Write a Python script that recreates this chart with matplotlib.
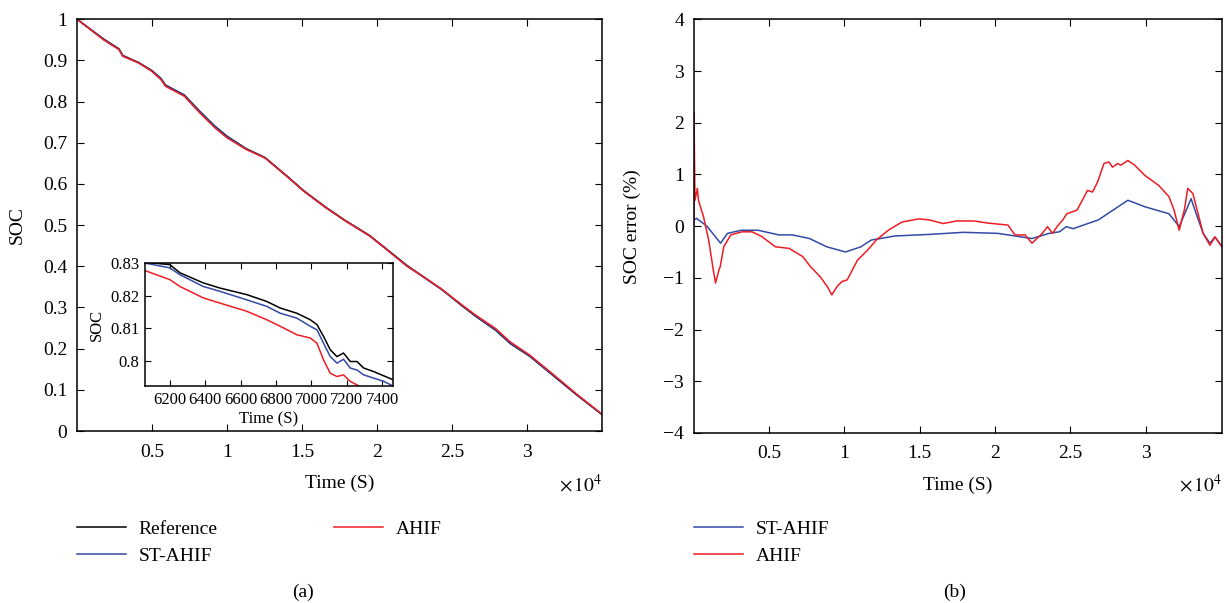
import matplotlib
matplotlib.use('Agg')
import matplotlib.pyplot as plt
from matplotlib.ticker import FuncFormatter, MultipleLocator

plt.rcParams['font.family'] = ['Liberation Serif', 'DejaVu Serif']
plt.rcParams['mathtext.fontset'] = 'stix'

# (a) SOC vs time, seconds
t_soc = [0, 1770, 2800, 3050, 4100, 5000, 5600, 5900, 7150, 8200, 9200, 10000, 11260, 12540,
         14100, 15100, 16600, 17900, 19500, 20500, 22000, 23000, 24300, 25600, 26600, 27900,
         28900, 30200, 31800, 33300, 35000]
soc_ref = [1.0, 0.952, 0.928, 0.912, 0.895, 0.875, 0.856, 0.840, 0.816, 0.776, 0.740, 0.716,
           0.686, 0.664, 0.616, 0.584, 0.543, 0.511, 0.475, 0.446, 0.402, 0.377, 0.344, 0.306,
           0.278, 0.245, 0.212, 0.181, 0.133, 0.088, 0.040]
soc_st = [1.0, 0.951, 0.927, 0.911, 0.894, 0.874, 0.855, 0.839, 0.815, 0.775, 0.739, 0.715,
          0.685, 0.663, 0.615, 0.583, 0.542, 0.510, 0.474, 0.445, 0.401, 0.376, 0.344, 0.307,
          0.279, 0.246, 0.213, 0.182, 0.134, 0.089, 0.040]
soc_ahif = [1.0, 0.950, 0.926, 0.910, 0.894, 0.873, 0.853, 0.837, 0.813, 0.772, 0.736, 0.712,
            0.684, 0.663, 0.615, 0.583, 0.542, 0.510, 0.474, 0.445, 0.400, 0.377, 0.345, 0.308,
            0.281, 0.249, 0.216, 0.184, 0.136, 0.090, 0.041]

# inset zoom 6060-7460 s
t_in = [6058, 6200, 6257, 6389, 6484, 6635, 6748, 6824, 6918, 6994, 7032, 7069, 7107, 7145,
        7182, 7220, 7258, 7296, 7353, 7410, 7462]
in_ref = [0.8302, 0.8295, 0.8270, 0.8239, 0.8223, 0.8203, 0.8182, 0.8162, 0.8146, 0.8126,
          0.8111, 0.8075, 0.8034, 0.8013, 0.8024, 0.7998, 0.7998, 0.7978, 0.7967, 0.7954, 0.7942]
in_st = [0.8300, 0.8285, 0.8264, 0.8228, 0.8213, 0.8187, 0.8167, 0.8146, 0.8131, 0.8106,
         0.8095, 0.8054, 0.8013, 0.7993, 0.8005, 0.7978, 0.7972, 0.7957, 0.7947, 0.7937, 0.7923]
t_in_ahif = [6058, 6200, 6257, 6389, 6484, 6635, 6748, 6824, 6918, 6994, 7032, 7069, 7107,
             7145, 7182, 7220, 7277, 7300]
in_ahif = [0.8277, 0.8249, 0.8228, 0.8193, 0.8177, 0.8152, 0.8126, 0.8106, 0.8080, 0.8070,
           0.8054, 0.8003, 0.7962, 0.7952, 0.7957, 0.7937, 0.7921, 0.7900]

# (b) SOC error (%)
t_err_ahif = [0, 1, 70, 230, 300, 640, 980, 1320, 1440, 1660, 1750, 1980, 2450, 3180, 3860,
              4500, 5410, 6320, 7230, 7730, 8390, 8860, 9160, 9500, 9840, 10180, 10860, 11550,
              12110, 12910, 13820, 14950, 15640, 16550, 17450, 18590, 19500, 20180, 20860,
              21320, 22000, 22450, 23140, 23480, 23820, 24140, 24500, 24770, 25450, 26140,
              26480, 26820, 27230, 27570, 27800, 28140, 28360, 28820, 29270, 29950, 30860,
              31550, 31890, 32230, 32570, 32800, 33140, 33820, 34270, 34610, 35070]
err_ahif = [0.0, 2.2, 0.5, 0.73, 0.5, 0.18, -0.27, -0.91, -1.1, -0.85, -0.78, -0.4, -0.17,
            -0.11, -0.11, -0.2, -0.4, -0.43, -0.59, -0.78, -0.98, -1.17, -1.33, -1.17, -1.07,
            -1.04, -0.66, -0.46, -0.27, -0.08, 0.08, 0.14, 0.12, 0.05, 0.1, 0.1, 0.06, 0.04,
            0.02, -0.17, -0.17, -0.33, -0.14, -0.01, -0.14, 0.0, 0.12, 0.24, 0.31, 0.69, 0.66,
            0.86, 1.21, 1.24, 1.14, 1.21, 1.18, 1.27, 1.18, 0.98, 0.79, 0.57, 0.31, -0.08,
            0.31, 0.73, 0.63, -0.14, -0.37, -0.21, -0.4]
t_err_st = [0, 180, 860, 1770, 2230, 3140, 4270, 5640, 6550, 7680, 8820, 10070, 11090, 11770,
            13360, 15640, 17910, 20180, 21320, 22450, 23590, 24270, 24730, 25180, 26860,
            28820, 30000, 31550, 32230, 33020, 33360, 33820, 34270, 34610, 35070]
err_st = [0.12, 0.15, 0.0, -0.33, -0.14, -0.08, -0.08, -0.17, -0.17, -0.24, -0.4, -0.5, -0.4,
          -0.27, -0.19, -0.16, -0.12, -0.14, -0.19, -0.24, -0.14, -0.11, -0.01, -0.05, 0.12,
          0.5, 0.37, 0.24, -0.01, 0.53, 0.24, -0.14, -0.33, -0.21, -0.4]

c_ref = 'black'
c_st = '#3349a5'
c_ahif = '#ee1c24'
fs = 14
fs_in = 12

fig = plt.figure(figsize=(12.26, 6.03), dpi=100)
ax1 = fig.add_axes([0.0628, 0.2852, 0.4282, 0.683])
ax2 = fig.add_axes([0.566, 0.2820, 0.4307, 0.686])

def style(ax):
    ax.tick_params(direction='in', top=True, right=True, labelsize=fs, length=5, width=0.8)
    ax.tick_params(axis='x', pad=9)
    ax.tick_params(axis='y', pad=7)
    for s in ax.spines.values():
        s.set_linewidth(1.1)

sec_fmt = FuncFormatter(lambda v, p: '%g' % (v / 1e4))
minus_fmt = lambda v, p: ('%g' % round(v, 2)).replace('-', '\u2212')

l1, = ax1.plot(t_soc, soc_ref, color=c_ref, lw=1.1)
l2, = ax1.plot(t_soc, soc_st, color=c_st, lw=1.1)
l3, = ax1.plot(t_soc, soc_ahif, color=c_ahif, lw=1.1)
ax1.set_xlim(0, 35000)
ax1.set_ylim(0, 1)
ax1.xaxis.set_major_formatter(sec_fmt)
ax1.yaxis.set_major_locator(MultipleLocator(0.1))
ax1.yaxis.set_major_formatter(FuncFormatter(lambda v, p: '%g' % round(v, 1)))
ax1.set_xticks([5000, 10000, 15000, 20000, 25000, 30000])
ax1.set_xlabel('Time (S)', fontsize=fs, labelpad=10)
ax1.set_ylabel('SOC', fontsize=fs, labelpad=12)
style(ax1)
fig.text(0.491, 0.196, r'$\times\,10^4$', fontsize=fs, ha='right', va='center')

axi = fig.add_axes([0.1183, 0.3599, 0.2023, 0.204])
axi.plot(t_in, in_ref, color=c_ref, lw=1.1)
axi.plot(t_in, in_st, color=c_st, lw=1.1)
axi.plot(t_in_ahif, in_ahif, color=c_ahif, lw=1.1)
axi.set_xlim(6060, 7462)
axi.set_ylim(0.7923, 0.83)
axi.set_xticks([6200, 6400, 6600, 6800, 7000, 7200, 7400])
axi.set_yticks([0.8, 0.81, 0.82, 0.83])
axi.yaxis.set_major_formatter(FuncFormatter(lambda v, p: '%g' % round(v, 2)))
axi.tick_params(direction='in', top=True, right=True, labelsize=fs_in, length=4, pad=4)
axi.set_xlabel('Time (S)', fontsize=fs_in, labelpad=3)
axi.set_ylabel('SOC', fontsize=fs_in, labelpad=4)
for s in axi.spines.values():
    s.set_linewidth(1.1)

ax2.plot(t_err_st, err_st, color=c_st, lw=1.1)
ax2.plot(t_err_ahif, err_ahif, color=c_ahif, lw=1.1)
ax2.set_xlim(0, 35070)
ax2.set_ylim(-4, 4)
ax2.set_xticks([5000, 10000, 15000, 20000, 25000, 30000])
ax2.xaxis.set_major_formatter(sec_fmt)
ax2.yaxis.set_major_locator(MultipleLocator(1))
ax2.yaxis.set_major_formatter(FuncFormatter(minus_fmt))
ax2.set_xlabel('Time (S)', fontsize=fs, labelpad=10)
ax2.set_ylabel('SOC error (%)', fontsize=fs, labelpad=16)
style(ax2)
fig.text(0.9967, 0.196, r'$\times\,10^4$', fontsize=fs, ha='right', va='center')

# legends below the panels
leg_kw = dict(frameon=False, fontsize=fs, handlelength=2.5, handletextpad=0.67,
              labelspacing=0.5, borderpad=0, borderaxespad=0, loc='upper left')
fig.legend([l1, l2, l3], ['Reference', 'ST-AHIF', 'AHIF'], ncol=2, columnspacing=6.0,
           bbox_to_anchor=(0.0628, 0.1376), **leg_kw)
h_st = plt.Line2D([], [], color=c_st, lw=1.1)
h_ah = plt.Line2D([], [], color=c_ahif, lw=1.1)
fig.legend([h_st, h_ah], ['ST-AHIF', 'AHIF'], bbox_to_anchor=(0.566, 0.1376), **leg_kw)

fig.text(0.247, 0.018, '(a)', fontsize=fs, ha='center', va='center')
fig.text(0.779, 0.018, '(b)', fontsize=fs, ha='center', va='center')

fig.savefig('out.png', dpi=100)
